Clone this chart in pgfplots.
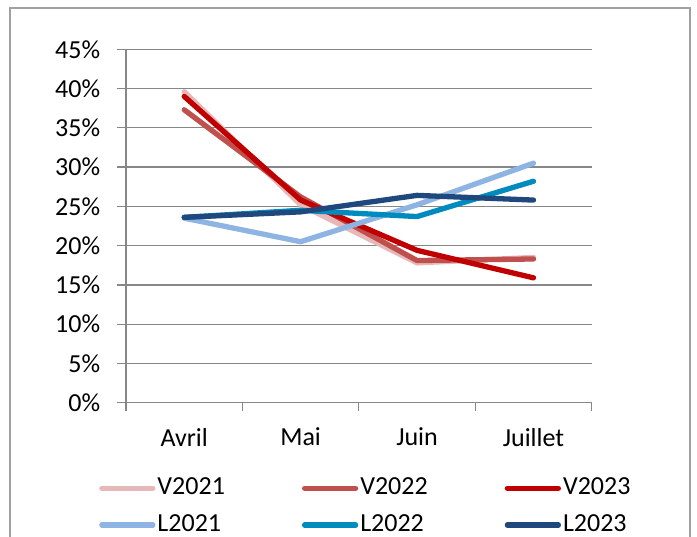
\documentclass[border=0pt]{standalone}
\usepackage{fontspec}
\setmainfont{Carlito}
\usepackage{pgfplots}
\pgfplotsset{compat=1.18}
\definecolor{cVa}{HTML}{E6B9B8}
\definecolor{cVb}{HTML}{C0504D}
\definecolor{cVc}{HTML}{C00000}
\definecolor{cLa}{HTML}{8EB4E3}
\definecolor{cLb}{HTML}{008BBF}
\definecolor{cLc}{HTML}{1F497D}
\definecolor{gridgray}{HTML}{878787}
\definecolor{framegray}{HTML}{A0A0A0}
\begin{document}
\fontsize{26pt}{31pt}\selectfont
\begin{tikzpicture}
\begin{axis}[
  scale only axis, width=465.7pt, height=353.4pt,
  xmin=-0.5, xmax=3.5, ymin=0, ymax=45,
  axis x line*=bottom, axis y line*=left,
  axis line style={draw=gridgray, line width=1.3pt, -},
  xtick={0,1,2,3}, xticklabels={Avril,Mai,Juin,Juillet},
  major x tick style={draw=none},
  minor xtick={-0.5,0.5,1.5,2.5,3.5},
  minor tick length=8pt, major tick length=9pt, tick align=outside,
  ytick={0,5,...,45},
  ymajorgrids, grid style={draw=gridgray, line width=1.3pt},
  tick style={draw=gridgray, line width=1.3pt},
  yticklabel={\pgfmathprintnumber{\tick}\%},
  /pgf/number format/assume math mode=true,
  tick label style={font=\fontsize{26pt}{31pt}\selectfont},
  yticklabel style={xshift=-8pt},
  xticklabel style={yshift=-7.5pt},
  every axis plot/.append style={line width=5.3pt, line cap=round, line join=round},
  legend columns=3,
  legend cell align=left,
  legend image code/.code={\draw[#1, line cap=round] (0pt,0pt) -- (51pt,0pt);},
  legend style={draw=none, fill=none, at={(axis description cs:0,0)}, anchor=north west,
    xshift=-27pt, yshift=-73pt, inner sep=0pt, row sep=12pt,
    font=\fontsize{26pt}{31pt}\selectfont,
    nodes={inner sep=2pt},
    /tikz/every even column/.append style={column sep=75pt}},
]
\addplot[cVa] coordinates {(0,39.6) (1,25.2) (2,17.8) (3,18.5)};
\addlegendentry{V2021}
\addplot[cVb] coordinates {(0,37.3) (1,26.2) (2,18.1) (3,18.3)};
\addlegendentry{V2022}
\addplot[cVc] coordinates {(0,39.0) (1,25.8) (2,19.4) (3,15.9)};
\addlegendentry{V2023}
\addplot[cLa] coordinates {(0,23.5) (1,20.5) (2,25.2) (3,30.5)};
\addlegendentry{L2021}
\addplot[cLb] coordinates {(0,23.6) (1,24.5) (2,23.7) (3,28.2)};
\addlegendentry{L2022}
\addplot[cLc] coordinates {(0,23.6) (1,24.3) (2,26.4) (3,25.8)};
\addlegendentry{L2023}
\end{axis}
\draw[framegray, line width=1.3pt] (-116pt,-134.3pt) -- (-116pt,394.7pt) -- (564pt,394.7pt) -- (564pt,-134.3pt);
\pgfresetboundingbox
\useasboundingbox (-126pt,-134.3pt) rectangle (571pt,402.7pt);
\end{tikzpicture}
\end{document}
